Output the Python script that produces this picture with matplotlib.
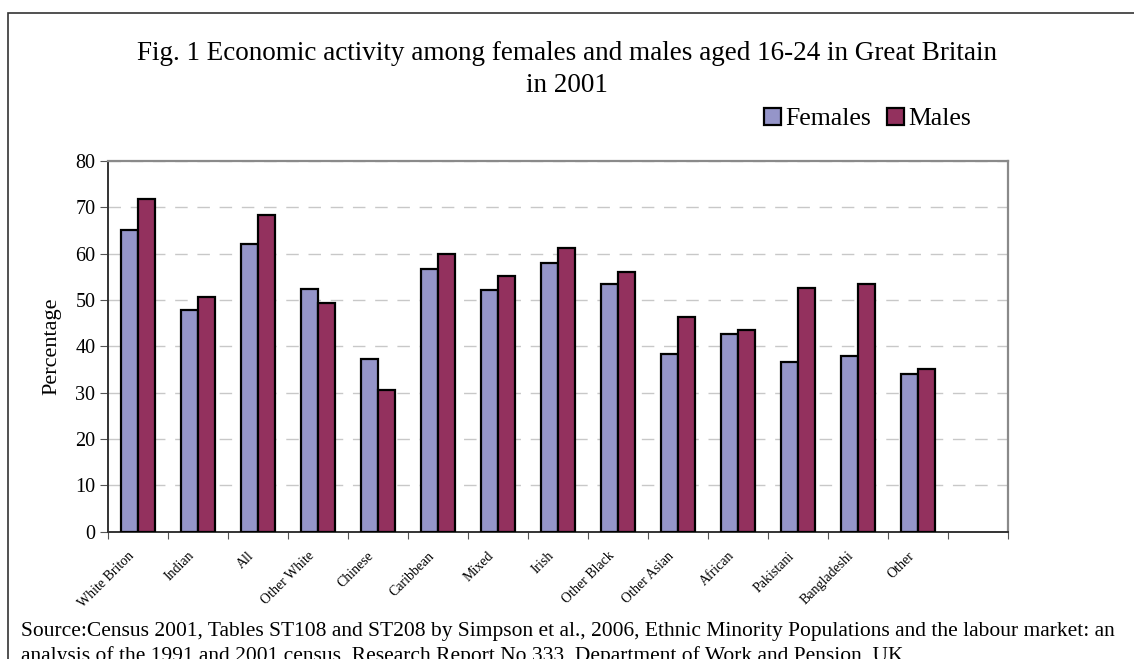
import numpy as np
import matplotlib
matplotlib.use("Agg")
import matplotlib.pyplot as plt
import matplotlib.transforms as mtransforms
from matplotlib.patches import Rectangle

# data
groups = ["White Briton", "Indian", "All", "Other White", "Chinese", "Caribbean",
          "Mixed", "Irish", "Other Black", "Other Asian", "African", "Pakistani",
          "Bangladeshi", "Other"]
females = [65.2, 47.8, 62.1, 52.3, 37.2, 56.6, 52.1, 58.0, 53.5, 38.3, 42.7, 36.6, 37.9, 34.0]
males = [71.8, 50.7, 68.4, 49.3, 30.5, 60.0, 55.1, 61.3, 56.1, 46.4, 43.6, 52.5, 53.5, 35.1]
yticks = [0, 10, 20, 30, 40, 50, 60, 70, 80]

plt.rcParams['font.family'] = ['Liberation Serif', 'DejaVu Serif']

W, H = 1134, 659
fig = plt.figure(figsize=(W/100, H/100), dpi=100)
ax = fig.add_axes([108/W, 127.4/H, 900/W, 370.6/H])

#bars
x = np.arange(len(groups))
w = 0.29
ax.bar(x - w/2, females, w, color='#9595C9', edgecolor='black', linewidth=1.6, label='Females', zorder=3)
ax.bar(x + w/2, males, w, color='#93315E', edgecolor='black', linewidth=1.6, label='Males', zorder=3)

ax.set_xlim(-0.5, len(groups) + 0.5)
ax.set_ylim(0, 80)
ax.set_yticks(yticks)
ax.tick_params(axis='y', labelsize=14.5, length=6, direction='out', pad=3, color='#555555')

#category boundary ticks, labels in the middle
ax.set_xticks(np.arange(-0.5, len(groups) + 1, 1))
ax.set_xticklabels([])
ax.set_xticks(x, minor=True)
ax.set_xticklabels(groups, minor=True, rotation=45, ha='right', va='center',
                   rotation_mode='anchor', fontsize=10)
ax.tick_params(axis='x', which='major', length=5, color='#555555')
ax.tick_params(axis='x', which='minor', length=0, pad=16)
shift = mtransforms.ScaledTranslation(-0.06, 0, fig.dpi_scale_trans)
for lbl in ax.get_xticklabels(minor=True):
    lbl.set_transform(lbl.get_transform() + shift)

ax.grid(axis='y', color='#C8C8C8', linestyle=(0, (9, 7)), linewidth=1, zorder=0)
for s in ['top', 'right']:
    ax.spines[s].set_color('#8A8A8A')
    ax.spines[s].set_linewidth(1.6)
for s in ['left', 'bottom']:
    ax.spines[s].set_color('#333333')
    ax.spines[s].set_linewidth(1.4)
ax.set_ylabel('Percentage', fontsize=16, labelpad=10)

fig.text(0.5, 1 - 53/H, 'Fig. 1 Economic activity among females and males aged 16-24 in Great Britain',
         ha='center', va='center', fontsize=19.5)
fig.text(0.5, 1 - 86/H, 'in 2001', ha='center', va='center', fontsize=19.5)

ax.legend(loc='center left', bbox_to_anchor=(751/W, 1 - 119/H), bbox_transform=fig.transFigure,
          frameon=False, fontsize=18.5, handlelength=0.65, handleheight=0.65, handletextpad=0.2,
          ncol=2, columnspacing=0.6, borderpad=0)

fig.text(21/W, 1 - 636/H,
         'Source:Census 2001, Tables ST108 and ST208 by Simpson et al., 2006, Ethnic Minority Populations and the labour market: an',
         ha='left', va='baseline', fontsize=15.5)
fig.text(21/W, 1 - 661/H,
         'analysis of the 1991 and 2001 census, Research Report No 333, Department of Work and Pension, UK',
         ha='left', va='baseline', fontsize=15.5)

#outer frame
fig.patches.append(Rectangle((8/W, -0.1), 1.2, 1.1 - 12.7/H, transform=fig.transFigure,
                             fill=False, edgecolor='#333333', linewidth=1.2))

fig.savefig('out.png', dpi=100)
